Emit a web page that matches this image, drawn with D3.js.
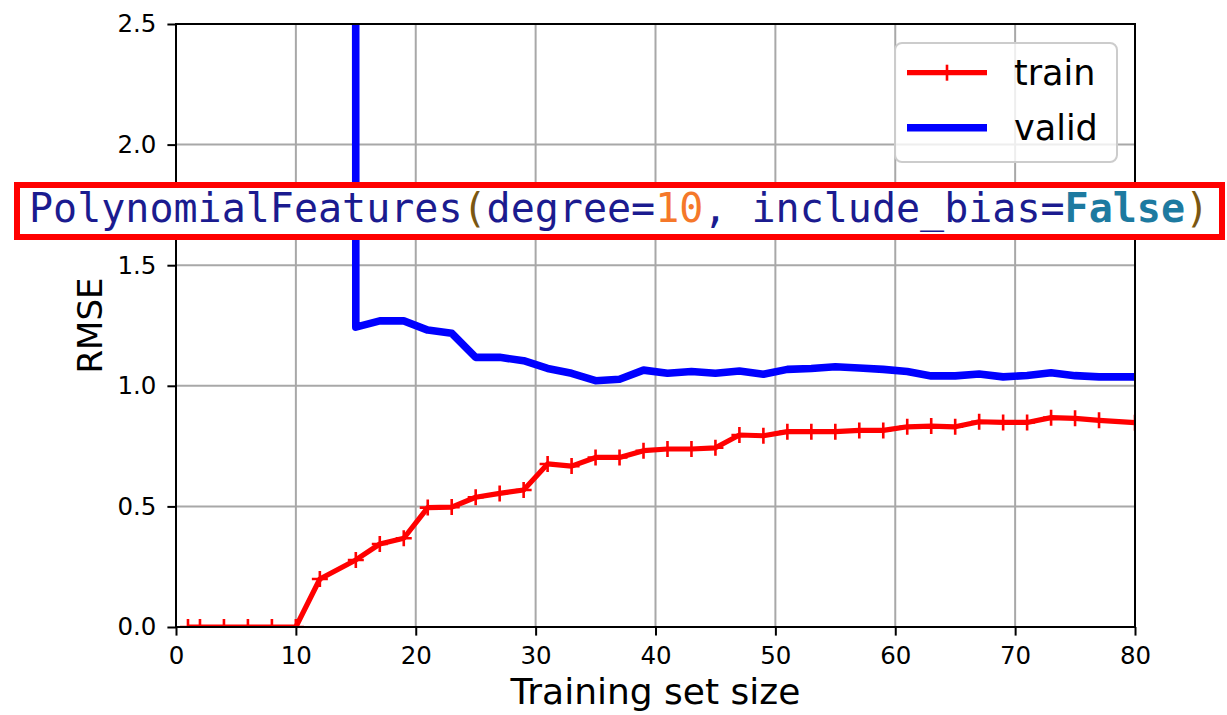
<!DOCTYPE html>
<html>
<head>
<meta charset="utf-8">
<script src="https://cdn.jsdelivr.net/npm/d3@7/dist/d3.min.js"></script>
<style>
  html, body { margin: 0; padding: 0; background: #fff; }
  svg { display: block; }
  text { font-family: "DejaVu Sans", sans-serif; }
</style>
</head>
<body>
<svg id="chart" width="1227" height="715"></svg>
<script>
// Learning curves: RMSE vs training set size
const trainSizes = [1, 2, 4, 6, 8, 10, 12, 15, 17, 19,
  21, 23, 25, 27, 29, 31, 33, 35, 37, 39,
  41, 43, 45, 47, 49, 51, 53, 55, 57, 59,
  61, 63, 65, 67, 69, 71, 73, 75, 77, 80];

const trainRmse = [0, 0, 0, 0, 0, 0, 0.199, 0.278, 0.344, 0.368,
  0.495, 0.497, 0.538, 0.554, 0.568, 0.676, 0.667, 0.703, 0.703, 0.731,
  0.738, 0.738, 0.743, 0.796, 0.793, 0.810, 0.810, 0.810, 0.815, 0.815,
  0.830, 0.833, 0.830, 0.851, 0.848, 0.848, 0.868, 0.865, 0.857, 0.847];

// the first few validation scores are far above the visible range
const validRmse = [25.4, 48.7, 112.5, 310.2, 840.6, 1250.3, 415.8, 1.243, 1.269, 1.269,
  1.231, 1.218, 1.118, 1.118, 1.104, 1.072, 1.052, 1.021, 1.027, 1.065,
  1.052, 1.059, 1.052, 1.061, 1.048, 1.068, 1.072, 1.079, 1.074, 1.068,
  1.059, 1.041, 1.041, 1.049, 1.037, 1.043, 1.054, 1.042, 1.037, 1.037];

const xTicks = [0, 10, 20, 30, 40, 50, 60, 70, 80];
const yTicks = [0, 0.5, 1.0, 1.5, 2.0, 2.5];
const seriesNames = ["train", "valid"];
const codeTokens = [
  { t: "PolynomialFeatures", c: "#1b1b8f" },
  { t: "(", c: "#7a5712" },
  { t: "degree", c: "#1b1b8f" },
  { t: "=", c: "#1b1b8f" },
  { t: "10", c: "#f5782a" },
  { t: ", ", c: "#1b1b8f" },
  { t: "include_bias", c: "#1b1b8f" },
  { t: "=", c: "#1b1b8f" },
  { t: "False", c: "#1d7aa0", w: "bold" },
  { t: ")", c: "#7a5712" }
];

const svg = d3.select("#chart");
const plot = { left: 176, right: 1135, top: 24, bottom: 627 };

const x = d3.scaleLinear().domain([0, 80]).range([plot.left, plot.right]);
const y = d3.scaleLinear().domain([0, 2.5]).range([plot.bottom, plot.top]);

svg.append("defs").append("clipPath").attr("id", "plotClip")
  .append("rect")
  .attr("x", plot.left).attr("y", plot.top)
  .attr("width", plot.right - plot.left).attr("height", plot.bottom - plot.top);

// grid
const grid = svg.append("g").attr("stroke", "#a8a8a8").attr("stroke-width", 2);
grid.selectAll("line.gx").data(xTicks).join("line")
  .attr("x1", d => x(d)).attr("x2", d => x(d))
  .attr("y1", plot.top).attr("y2", plot.bottom);
grid.selectAll("line.gy").data(yTicks).join("line")
  .attr("x1", plot.left).attr("x2", plot.right)
  .attr("y1", d => y(d)).attr("y2", d => y(d));

// series
const pts = (vals) => trainSizes.map((s, i) => [s, vals[i]]);
const line = d3.line().x(d => x(d[0])).y(d => y(d[1]));
const series = svg.append("g").attr("clip-path", "url(#plotClip)");

series.append("path").datum(pts(trainRmse))
  .attr("d", line).attr("fill", "none")
  .attr("stroke", "red").attr("stroke-width", 5.2)
  .attr("stroke-linejoin", "round").attr("stroke-linecap", "butt");

const ms = 8;
series.append("g").selectAll("path").data(pts(trainRmse)).join("path")
  .attr("d", d => `M${x(d[0]) - ms},${y(d[1])}H${x(d[0]) + ms}M${x(d[0])},${y(d[1]) - ms}V${y(d[1]) + ms}`)
  .attr("stroke", "red").attr("stroke-width", 2.6).attr("fill", "none");

series.append("path").datum(pts(validRmse))
  .attr("d", line).attr("fill", "none")
  .attr("stroke", "blue").attr("stroke-width", 7.6)
  .attr("stroke-linejoin", "round").attr("stroke-linecap", "butt");

// axes
const xAxis = d3.axisBottom(x).tickValues(xTicks).tickFormat(d3.format("d"))
  .tickSize(8.6).tickPadding(11);
const yAxis = d3.axisLeft(y).tickValues(yTicks).tickFormat(d3.format(".1f"))
  .tickSize(8.6).tickPadding(11);

const gx = svg.append("g").attr("transform", `translate(0,${plot.bottom})`).call(xAxis);
const gy = svg.append("g").attr("transform", `translate(${plot.left},0)`).call(yAxis);
[gx, gy].forEach(g => {
  g.select(".domain").remove();
  g.selectAll(".tick line").attr("stroke", "#000").attr("stroke-width", 2);
  g.selectAll(".tick text").attr("fill", "#000")
    .style("font-family", "DejaVu Sans, sans-serif").style("font-size", "24.5px");
});

// frame
svg.append("rect")
  .attr("x", plot.left).attr("y", plot.top)
  .attr("width", plot.right - plot.left).attr("height", plot.bottom - plot.top)
  .attr("fill", "none").attr("stroke", "#000").attr("stroke-width", 2);

// axis labels
svg.append("text")
  .attr("x", (plot.left + plot.right) / 2).attr("y", 704)
  .attr("text-anchor", "middle").style("font-size", "36px")
  .text("Training set size");
svg.append("text")
  .attr("transform", `translate(102,${(plot.top + plot.bottom) / 2}) rotate(-90)`)
  .attr("text-anchor", "middle").style("font-size", "34px")
  .text("RMSE");

// legend
const legend = svg.append("g");
legend.append("rect")
  .attr("x", 895).attr("y", 43).attr("width", 222).attr("height", 119)
  .attr("rx", 7).attr("ry", 7)
  .attr("fill", "#fff").attr("fill-opacity", 0.8)
  .attr("stroke", "#cccccc").attr("stroke-width", 2);

const rows = legend.selectAll("g.row").data(seriesNames).join("g")
  .attr("transform", (d, i) => `translate(0,${72.7 + i * 55})`);
rows.append("line")
  .attr("x1", 907).attr("x2", 987).attr("y1", 0).attr("y2", 0)
  .attr("stroke", (d, i) => i === 0 ? "red" : "blue")
  .attr("stroke-width", (d, i) => i === 0 ? 5.2 : 7.6);
rows.filter((d, i) => i === 0).append("line")
  .attr("x1", 947).attr("x2", 947).attr("y1", -ms).attr("y2", ms)
  .attr("stroke", "red").attr("stroke-width", 2.6);
rows.append("text")
  .attr("x", 1014).attr("y", 12.5)
  .style("font-size", "35px").attr("fill", "#000")
  .text(d => d);

// code annotation
const note = svg.append("g");
note.append("rect")
  .attr("x", 17).attr("y", 185).attr("width", 1205).attr("height", 52)
  .attr("fill", "#fff").attr("stroke", "red").attr("stroke-width", 6);
note.append("text")
  .attr("x", 29).attr("y", 222)
  .style("font-family", "DejaVu Sans Mono, monospace").style("font-size", "40px")
  .selectAll("tspan").data(codeTokens).join("tspan")
  .attr("fill", d => d.c)
  .attr("font-weight", d => d.w || "normal")
  .attr("xml:space", "preserve")
  .style("white-space", "pre")
  .text(d => d.t);
</script>
</body>
</html>
